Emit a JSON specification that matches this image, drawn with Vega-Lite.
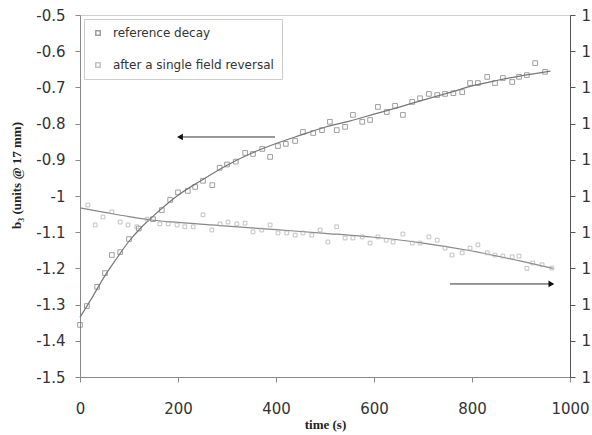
{
  "$schema": "https://vega.github.io/schema/vega-lite/v6.json",
  "width": 490,
  "height": 362,
  "autosize": {"type": "none"},
  "padding": {"left": 80, "top": 15, "right": 22, "bottom": 58},
  "background": "white",
  "config": {
    "view": {"stroke": "#cfcfcf", "strokeWidth": 1},
    "axis": {
      "labelFont": "DejaVu Sans", "labelFontSize": 15, "labelColor": "#333", "labelOverlap": false, "labelFlush": false,
      "domainColor": "#888", "tickColor": "#888", "tickSize": 5, "grid": false,
      "titleFont": "Liberation Serif", "titleFontWeight": "bold", "titleFontSize": 13, "titleColor": "#222"
    }
  },
  "datasets": {
    "pts": [
      {"t": 0, "v": -1.356, "series": "reference decay"},
      {"t": 14, "v": -1.304, "series": "reference decay"},
      {"t": 35, "v": -1.251, "series": "reference decay"},
      {"t": 51, "v": -1.213, "series": "reference decay"},
      {"t": 65, "v": -1.163, "series": "reference decay"},
      {"t": 82, "v": -1.155, "series": "reference decay"},
      {"t": 100, "v": -1.119, "series": "reference decay"},
      {"t": 120, "v": -1.09, "series": "reference decay"},
      {"t": 149, "v": -1.064, "series": "reference decay"},
      {"t": 167, "v": -1.039, "series": "reference decay"},
      {"t": 184, "v": -1.011, "series": "reference decay"},
      {"t": 200, "v": -0.99, "series": "reference decay"},
      {"t": 220, "v": -0.986, "series": "reference decay"},
      {"t": 235, "v": -0.975, "series": "reference decay"},
      {"t": 251, "v": -0.958, "series": "reference decay"},
      {"t": 270, "v": -0.97, "series": "reference decay"},
      {"t": 285, "v": -0.922, "series": "reference decay"},
      {"t": 300, "v": -0.913, "series": "reference decay"},
      {"t": 318, "v": -0.905, "series": "reference decay"},
      {"t": 337, "v": -0.881, "series": "reference decay"},
      {"t": 353, "v": -0.884, "series": "reference decay"},
      {"t": 372, "v": -0.87, "series": "reference decay"},
      {"t": 388, "v": -0.892, "series": "reference decay"},
      {"t": 404, "v": -0.862, "series": "reference decay"},
      {"t": 420, "v": -0.856, "series": "reference decay"},
      {"t": 439, "v": -0.848, "series": "reference decay"},
      {"t": 455, "v": -0.823, "series": "reference decay"},
      {"t": 476, "v": -0.826, "series": "reference decay"},
      {"t": 494, "v": -0.818, "series": "reference decay"},
      {"t": 510, "v": -0.795, "series": "reference decay"},
      {"t": 524, "v": -0.818, "series": "reference decay"},
      {"t": 541, "v": -0.809, "series": "reference decay"},
      {"t": 557, "v": -0.776, "series": "reference decay"},
      {"t": 576, "v": -0.795, "series": "reference decay"},
      {"t": 592, "v": -0.79, "series": "reference decay"},
      {"t": 608, "v": -0.754, "series": "reference decay"},
      {"t": 626, "v": -0.768, "series": "reference decay"},
      {"t": 643, "v": -0.751, "series": "reference decay"},
      {"t": 659, "v": -0.776, "series": "reference decay"},
      {"t": 678, "v": -0.74, "series": "reference decay"},
      {"t": 694, "v": -0.73, "series": "reference decay"},
      {"t": 712, "v": -0.718, "series": "reference decay"},
      {"t": 729, "v": -0.721, "series": "reference decay"},
      {"t": 745, "v": -0.718, "series": "reference decay"},
      {"t": 762, "v": -0.716, "series": "reference decay"},
      {"t": 780, "v": -0.713, "series": "reference decay"},
      {"t": 796, "v": -0.688, "series": "reference decay"},
      {"t": 812, "v": -0.688, "series": "reference decay"},
      {"t": 831, "v": -0.671, "series": "reference decay"},
      {"t": 847, "v": -0.688, "series": "reference decay"},
      {"t": 863, "v": -0.674, "series": "reference decay"},
      {"t": 882, "v": -0.685, "series": "reference decay"},
      {"t": 896, "v": -0.671, "series": "reference decay"},
      {"t": 912, "v": -0.666, "series": "reference decay"},
      {"t": 929, "v": -0.633, "series": "reference decay"},
      {"t": 949, "v": -0.657, "series": "reference decay"},
      {"t": 16, "v": -1.025, "series": "after a single field reversal"},
      {"t": 31, "v": -1.08, "series": "after a single field reversal"},
      {"t": 47, "v": -1.058, "series": "after a single field reversal"},
      {"t": 65, "v": -1.044, "series": "after a single field reversal"},
      {"t": 82, "v": -1.072, "series": "after a single field reversal"},
      {"t": 98, "v": -1.08, "series": "after a single field reversal"},
      {"t": 116, "v": -1.085, "series": "after a single field reversal"},
      {"t": 137, "v": -1.064, "series": "after a single field reversal"},
      {"t": 163, "v": -1.077, "series": "after a single field reversal"},
      {"t": 180, "v": -1.077, "series": "after a single field reversal"},
      {"t": 198, "v": -1.08, "series": "after a single field reversal"},
      {"t": 214, "v": -1.085, "series": "after a single field reversal"},
      {"t": 231, "v": -1.085, "series": "after a single field reversal"},
      {"t": 251, "v": -1.052, "series": "after a single field reversal"},
      {"t": 269, "v": -1.094, "series": "after a single field reversal"},
      {"t": 286, "v": -1.077, "series": "after a single field reversal"},
      {"t": 302, "v": -1.072, "series": "after a single field reversal"},
      {"t": 320, "v": -1.077, "series": "after a single field reversal"},
      {"t": 337, "v": -1.075, "series": "after a single field reversal"},
      {"t": 353, "v": -1.099, "series": "after a single field reversal"},
      {"t": 371, "v": -1.094, "series": "after a single field reversal"},
      {"t": 388, "v": -1.08, "series": "after a single field reversal"},
      {"t": 404, "v": -1.102, "series": "after a single field reversal"},
      {"t": 422, "v": -1.102, "series": "after a single field reversal"},
      {"t": 439, "v": -1.108, "series": "after a single field reversal"},
      {"t": 455, "v": -1.102, "series": "after a single field reversal"},
      {"t": 473, "v": -1.108, "series": "after a single field reversal"},
      {"t": 490, "v": -1.094, "series": "after a single field reversal"},
      {"t": 506, "v": -1.127, "series": "after a single field reversal"},
      {"t": 524, "v": -1.085, "series": "after a single field reversal"},
      {"t": 541, "v": -1.116, "series": "after a single field reversal"},
      {"t": 557, "v": -1.116, "series": "after a single field reversal"},
      {"t": 576, "v": -1.113, "series": "after a single field reversal"},
      {"t": 592, "v": -1.13, "series": "after a single field reversal"},
      {"t": 608, "v": -1.113, "series": "after a single field reversal"},
      {"t": 625, "v": -1.122, "series": "after a single field reversal"},
      {"t": 639, "v": -1.127, "series": "after a single field reversal"},
      {"t": 659, "v": -1.105, "series": "after a single field reversal"},
      {"t": 678, "v": -1.13, "series": "after a single field reversal"},
      {"t": 694, "v": -1.13, "series": "after a single field reversal"},
      {"t": 712, "v": -1.113, "series": "after a single field reversal"},
      {"t": 729, "v": -1.122, "series": "after a single field reversal"},
      {"t": 745, "v": -1.144, "series": "after a single field reversal"},
      {"t": 759, "v": -1.163, "series": "after a single field reversal"},
      {"t": 780, "v": -1.157, "series": "after a single field reversal"},
      {"t": 796, "v": -1.144, "series": "after a single field reversal"},
      {"t": 812, "v": -1.135, "series": "after a single field reversal"},
      {"t": 831, "v": -1.157, "series": "after a single field reversal"},
      {"t": 847, "v": -1.163, "series": "after a single field reversal"},
      {"t": 863, "v": -1.166, "series": "after a single field reversal"},
      {"t": 882, "v": -1.168, "series": "after a single field reversal"},
      {"t": 896, "v": -1.166, "series": "after a single field reversal"},
      {"t": 912, "v": -1.2, "series": "after a single field reversal"},
      {"t": 924, "v": -1.185, "series": "after a single field reversal"},
      {"t": 943, "v": -1.19, "series": "after a single field reversal"},
      {"t": 963, "v": -1.199, "series": "after a single field reversal"}
    ],
    "fit": [
      {"t": 0, "v": -1.335, "series": "ref"},
      {"t": 25, "v": -1.28, "series": "ref"},
      {"t": 50, "v": -1.222, "series": "ref"},
      {"t": 75, "v": -1.172, "series": "ref"},
      {"t": 100, "v": -1.125, "series": "ref"},
      {"t": 125, "v": -1.087, "series": "ref"},
      {"t": 150, "v": -1.055, "series": "ref"},
      {"t": 175, "v": -1.025, "series": "ref"},
      {"t": 200, "v": -0.998, "series": "ref"},
      {"t": 250, "v": -0.955, "series": "ref"},
      {"t": 300, "v": -0.915, "series": "ref"},
      {"t": 350, "v": -0.882, "series": "ref"},
      {"t": 400, "v": -0.855, "series": "ref"},
      {"t": 450, "v": -0.832, "series": "ref"},
      {"t": 500, "v": -0.81, "series": "ref"},
      {"t": 550, "v": -0.793, "series": "ref"},
      {"t": 600, "v": -0.774, "series": "ref"},
      {"t": 650, "v": -0.755, "series": "ref"},
      {"t": 700, "v": -0.735, "series": "ref"},
      {"t": 750, "v": -0.716, "series": "ref"},
      {"t": 800, "v": -0.696, "series": "ref"},
      {"t": 850, "v": -0.681, "series": "ref"},
      {"t": 900, "v": -0.668, "series": "ref"},
      {"t": 960, "v": -0.655, "series": "ref"},
      {"t": 0, "v": -1.033, "series": "rev"},
      {"t": 50, "v": -1.045, "series": "rev"},
      {"t": 100, "v": -1.057, "series": "rev"},
      {"t": 150, "v": -1.067, "series": "rev"},
      {"t": 200, "v": -1.073, "series": "rev"},
      {"t": 300, "v": -1.083, "series": "rev"},
      {"t": 400, "v": -1.093, "series": "rev"},
      {"t": 500, "v": -1.103, "series": "rev"},
      {"t": 600, "v": -1.114, "series": "rev"},
      {"t": 700, "v": -1.13, "series": "rev"},
      {"t": 800, "v": -1.152, "series": "rev"},
      {"t": 900, "v": -1.18, "series": "rev"},
      {"t": 965, "v": -1.2, "series": "rev"}
    ],
    "arrows": [
      {"t": 398, "v": -0.837, "arrow": "left"},
      {"t": 204, "v": -0.837, "arrow": "left"},
      {"t": 755, "v": -1.243, "arrow": "right"},
      {"t": 962, "v": -1.243, "arrow": "right"}
    ],
    "heads": [
      {"t": 204, "v": -0.837, "shape": "triangle-left"},
      {"t": 962, "v": -1.243, "shape": "triangle-right"}
    ]
  },
  "resolve": {"scale": {"y": "independent"}},
  "layer": [
    {
      "layer": [
        {
          "data": {"name": "fit"},
          "transform": [{"filter": "datum.series == 'ref'"}],
          "mark": {"type": "line", "color": "#777", "strokeWidth": 1.2, "interpolate": "monotone"},
          "encoding": {
            "x": {"field": "t", "type": "quantitative", "scale": {"domain": [0, 1000]},
              "axis": {"values": [0, 200, 400, 600, 800, 1000], "format": "d", "title": "time (s)", "labelPadding": 19, "titlePadding": 2, "labelFlush": false, "labelOverlap": false}},
            "y": {"field": "v", "type": "quantitative", "scale": {"domain": [-1.5, -0.5]},
              "axis": {"values": [-1.5, -1.4, -1.3, -1.2, -1.1, -1, -0.9, -0.8, -0.7, -0.6, -0.5], "tickCount": 20, "format": "~g", "labelOverlap": false, "labelFlush": false, "labelExpr": "replace(datum.label, '−', '-')", "title": "b₃ (units @ 17 mm)", "labelPadding": 10, "titleX": -57, "titleY": 160}}
          }
        },
        {
          "data": {"name": "pts"},
          "transform": [{"filter": "datum.series == 'reference decay'"}],
          "mark": {"type": "point", "shape": "square", "filled": false, "size": 22, "strokeWidth": 1},
          "encoding": {
            "x": {"field": "t", "type": "quantitative"},
            "y": {"field": "v", "type": "quantitative"},
            "color": {"field": "series", "type": "nominal",
              "scale": {"domain": ["reference decay", "after a single field reversal"], "range": ["#777", "#aaa"]},
              "legend": {"orient": "none", "legendX": 4, "legendY": 4, "title": null, "symbolType": "square", "symbolSize": 20,
                "labelFont": "DejaVu Sans", "labelFontSize": 12, "labelColor": "#333", "rowPadding": 20, "labelLimit": 0,
                "strokeColor": "#cccccc", "padding": 8, "symbolStrokeWidth": 1.5, "labelOffset": 9}}
          }
        },
        {
          "data": {"name": "arrows"},
          "transform": [{"filter": "datum.arrow == 'left'"}],
          "mark": {"type": "line", "color": "#333", "strokeWidth": 1},
          "encoding": {"x": {"field": "t", "type": "quantitative"}, "y": {"field": "v", "type": "quantitative"}}
        }
      ]
    },
    {
      "layer": [
        {
          "data": {"name": "fit"},
          "transform": [{"filter": "datum.series == 'rev'"}],
          "mark": {"type": "line", "color": "#888", "strokeWidth": 1.2, "interpolate": "monotone"},
          "encoding": {
            "x": {"field": "t", "type": "quantitative"},
            "y": {"field": "v", "type": "quantitative", "scale": {"domain": [-1.5, -0.5]},
              "axis": {"orient": "right", "values": [-1.5, -1.4, -1.3, -1.2, -1.1, -1, -0.9, -0.8, -0.7, -0.6, -0.5], "tickCount": 20, "labelOverlap": false, "labelExpr": "'1'", "title": null, "domainColor": "#555", "tickColor": "#555", "labelPadding": 6}}
          }
        },
        {
          "data": {"name": "pts"},
          "transform": [{"filter": "datum.series == 'after a single field reversal'"}],
          "mark": {"type": "point", "shape": "square", "filled": false, "size": 14, "strokeWidth": 1},
          "encoding": {
            "x": {"field": "t", "type": "quantitative"},
            "y": {"field": "v", "type": "quantitative"},
            "color": {"field": "series", "type": "nominal"}
          }
        },
        {
          "data": {"name": "arrows"},
          "transform": [{"filter": "datum.arrow == 'right'"}],
          "mark": {"type": "line", "color": "#333", "strokeWidth": 1},
          "encoding": {"x": {"field": "t", "type": "quantitative"}, "y": {"field": "v", "type": "quantitative"}}
        },
        {
          "data": {"name": "heads"},
          "mark": {"type": "point", "filled": true, "color": "#111", "size": 45, "opacity": 1},
          "encoding": {
            "x": {"field": "t", "type": "quantitative"},
            "y": {"field": "v", "type": "quantitative"},
            "shape": {"field": "shape", "type": "nominal", "scale": null, "legend": null}
          }
        }
      ]
    }
  ]
}
